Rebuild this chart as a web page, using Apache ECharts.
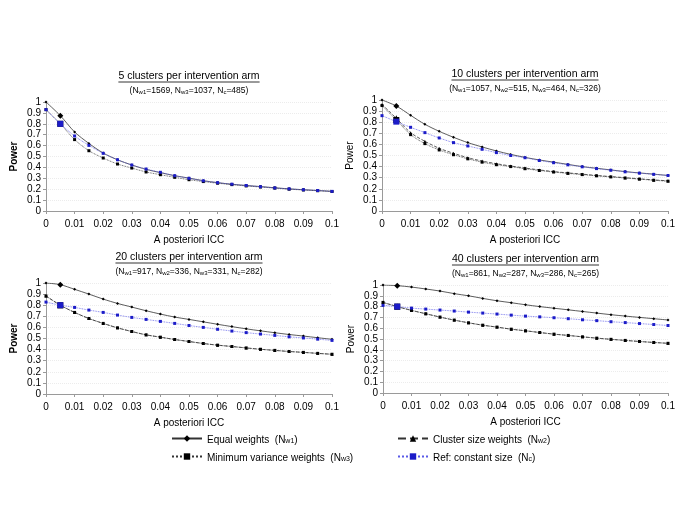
<!DOCTYPE html>
<html>
<head>
<meta charset="utf-8">
<script src="https://cdn.jsdelivr.net/npm/echarts@6/dist/echarts.min.js"></script>
<style>
  html, body { margin: 0; padding: 0; background: #fff; }
  #chart { width: 685px; height: 512px; }
</style>
</head>
<body>
<div id="chart"></div>
<script>
// x categories (ICC), labels shown every other one
var xCats = ['0','0.005','0.01','0.015','0.02','0.025','0.03','0.035','0.04','0.045','0.05',
             '0.055','0.06','0.065','0.07','0.075','0.08','0.085','0.09','0.095','0.1'];
var yTicks = [0, 0.1, 0.2, 0.3, 0.4, 0.5, 0.6, 0.7, 0.8, 0.9, 1];

// panel 1: 5 clusters
var p1_w1 = [1.0,0.875,0.725,0.62,0.532,0.47,0.422,0.382,0.352,0.324,0.302,0.278,0.26,0.245,0.234,0.224,0.213,0.203,0.195,0.188,0.18];
var p1_w3 = [0.93,0.80,0.655,0.553,0.486,0.431,0.394,0.358,0.333,0.309,0.287,0.27,0.255,0.242,0.23,0.22,0.21,0.2,0.193,0.186,0.179];
var p1_nc = [0.93,0.80,0.688,0.602,0.529,0.47,0.422,0.385,0.355,0.324,0.30,0.277,0.26,0.246,0.234,0.223,0.212,0.203,0.195,0.188,0.18];

// panel 2: 10 clusters
var p2_w1 = [1.0,0.946,0.862,0.781,0.718,0.664,0.616,0.577,0.541,0.51,0.483,0.46,0.44,0.42,0.40,0.385,0.37,0.355,0.343,0.332,0.32];
var p2_w2 = [0.96,0.835,0.706,0.628,0.565,0.52,0.48,0.45,0.426,0.405,0.387,0.37,0.355,0.343,0.332,0.32,0.31,0.30,0.29,0.28,0.272];
var p2_w3 = [0.95,0.82,0.688,0.607,0.55,0.507,0.47,0.44,0.417,0.40,0.381,0.365,0.351,0.339,0.328,0.317,0.307,0.297,0.287,0.277,0.268];
var p2_nc = [0.859,0.805,0.754,0.706,0.658,0.616,0.586,0.556,0.526,0.50,0.48,0.455,0.435,0.416,0.398,0.382,0.367,0.353,0.341,0.33,0.32];

// panel 3: 20 clusters
var p3_w1 = [1.0,0.985,0.943,0.90,0.855,0.816,0.783,0.75,0.72,0.693,0.672,0.65,0.628,0.607,0.587,0.569,0.552,0.536,0.522,0.507,0.493];
var p3_w2 = [0.883,0.80,0.735,0.68,0.636,0.596,0.563,0.533,0.512,0.491,0.473,0.455,0.44,0.428,0.415,0.403,0.393,0.383,0.375,0.366,0.358];
var p3_w3 = [0.883,0.80,0.735,0.68,0.636,0.596,0.563,0.533,0.512,0.491,0.473,0.455,0.44,0.428,0.415,0.403,0.393,0.383,0.375,0.366,0.358];
var p3_nc = [0.828,0.80,0.78,0.756,0.735,0.711,0.69,0.672,0.654,0.636,0.617,0.60,0.583,0.567,0.553,0.54,0.528,0.515,0.505,0.494,0.483];

// panel 4: 40 clusters
var p4_w1 = [1.0,0.994,0.981,0.963,0.944,0.92,0.90,0.876,0.854,0.836,0.817,0.80,0.785,0.77,0.755,0.74,0.725,0.712,0.70,0.688,0.676];
var p4_w2 = [0.839,0.80,0.765,0.734,0.703,0.675,0.65,0.628,0.61,0.591,0.576,0.56,0.545,0.533,0.52,0.508,0.497,0.487,0.477,0.468,0.46];
var p4_w3 = [0.839,0.80,0.765,0.734,0.703,0.675,0.65,0.628,0.61,0.591,0.576,0.56,0.545,0.533,0.52,0.508,0.497,0.487,0.477,0.468,0.46];
var p4_nc = [0.811,0.80,0.786,0.777,0.768,0.759,0.749,0.74,0.731,0.721,0.712,0.705,0.697,0.688,0.678,0.67,0.66,0.652,0.643,0.634,0.625];

var FONT = '"Liberation Sans", Arial, sans-serif';

var names = {
    w1: 'Equal weights',
    w2: 'Cluster size weights',
    w3: 'Minimum variance weights',
    nc: 'Ref: constant size'
};
var subs = { w1: 'w1', w2: 'w2', w3: 'w3', nc: 'c' };

var styles = {
    w1: { color: '#000', type: 'solid', symbol: 'diamond' },
    w2: { color: '#000', type: 'dashed', symbol: 'triangle' },
    w3: { color: '#000', type: 'dotted', symbol: 'rect' },
    nc: { color: '#1c1cc8', type: 'dotted', symbol: 'rect' }
};

var panels = [
    { title: '5 clusters per intervention arm',
      sub: [['w1','1569'],['w3','1037'],['c','485']],
      grid: { left: 46, top: 102, width: 286, height: 109 }, boldY: true,
      series: { w1: p1_w1, w3: p1_w3, nc: p1_nc } },
    { title: '10 clusters per intervention arm',
      sub: [['w1','1057'],['w2','515'],['w3','464'],['c','326']],
      grid: { left: 382, top: 100, width: 286, height: 111 }, boldY: false,
      series: { w1: p2_w1, w2: p2_w2, w3: p2_w3, nc: p2_nc } },
    { title: '20 clusters per intervention arm',
      sub: [['w1','917'],['w2','336'],['w3','331'],['c','282']],
      grid: { left: 46, top: 283, width: 286, height: 111 }, boldY: true,
      series: { w1: p3_w1, w2: p3_w2, w3: p3_w3, nc: p3_nc } },
    { title: '40 clusters per intervention arm',
      sub: [['w1','861'],['w2','287'],['w3','286'],['c','265']],
      grid: { left: 383, top: 285, width: 285, height: 108 }, boldY: false,
      series: { w1: p4_w1, w2: p4_w2, w3: p4_w3, nc: p4_nc } }
];

var measure = document.createElement('canvas').getContext('2d');
measure.font = '10.5px "Liberation Sans"';

var grids = [], xAxes = [], yAxes = [], series = [], titles = [], graphics = [];

panels.forEach(function (p, i) {
    var cx = p.grid.left + p.grid.width / 2;
    var titleTop = p.grid.top - 31;
    grids.push(p.grid);

    titles.push({
        text: p.title,
        left: cx, top: titleTop, textAlign: 'center', padding: 0,
        textStyle: { fontFamily: FONT, fontSize: 10.5, fontWeight: 'normal', color: '#000' }
    });
    var tw = measure.measureText(p.title).width;
    graphics.push({
        type: 'line',
        shape: { x1: cx - tw / 2, y1: titleTop + 11, x2: cx + tw / 2, y2: titleTop + 11 },
        style: { stroke: '#000', lineWidth: 0.8 }
    });

    var parts = p.sub.map(function (s) {
        return '{n|N}{s|' + s[0] + '}{n|=' + s[1] + '}';
    });
    titles.push({
        text: '{n|(}' + parts.join('{n|, }') + '{n|)}',
        left: cx, top: titleTop + 13, textAlign: 'center', padding: 0,
        textStyle: {
            fontWeight: 'normal',
            rich: {
                n: { fontFamily: FONT, fontSize: 8.5, fontWeight: 'normal', color: '#000', lineHeight: 11, verticalAlign: 'bottom' },
                s: { fontFamily: FONT, fontSize: 6, fontWeight: 'normal', color: '#000', lineHeight: 9, verticalAlign: 'bottom' }
            }
        }
    });

    xAxes.push({
        gridIndex: i, type: 'category', data: xCats, boundaryGap: false,
        name: 'A posteriori ICC', nameLocation: 'middle', nameGap: 24,
        nameTextStyle: { fontFamily: FONT, fontSize: 10, color: '#000' },
        axisLine: { lineStyle: { color: '#9a9a9a', width: 1 } },
        axisTick: { interval: 1, length: 3, lineStyle: { color: '#9a9a9a' } },
        axisLabel: { interval: 1, fontFamily: FONT, fontSize: 10, color: '#000', margin: 8 },
        splitLine: { show: false }
    });
    yAxes.push({
        gridIndex: i, type: 'value', min: 0, max: 1, interval: 0.1,
        name: 'Power', nameLocation: 'middle', nameGap: 27, nameRotate: 90,
        nameTextStyle: { fontFamily: FONT, fontSize: 10, color: '#000', fontWeight: p.boldY ? 'bold' : 'normal' },
        axisLine: { show: true, lineStyle: { color: '#9a9a9a', width: 1 } },
        axisTick: { show: true, length: 3, lineStyle: { color: '#9a9a9a' } },
        axisLabel: { fontFamily: FONT, fontSize: 10, color: '#000', margin: 5 },
        splitLine: { show: true, lineStyle: { color: '#ececec', type: 'dotted', width: 1 } }
    });

    ['w1', 'w2', 'w3', 'nc'].forEach(function (k) {
        if (!p.series[k]) return;
        var st = styles[k];
        series.push({
            name: names[k], type: 'line',
            xAxisIndex: i, yAxisIndex: i,
            data: p.series[k],
            symbol: st.symbol,
            symbolSize: function (v, prm) { return prm.dataIndex === 1 ? 6 : 3; },
            showAllSymbol: true,
            smooth: 0.3,
            itemStyle: { color: st.color },
            lineStyle: { color: k === 'nc' ? '#5a5ae8' : '#333', type: st.type, width: 0.8 },
            emphasis: { disabled: true },
            animation: false,
            z: k === 'nc' ? 3 : 2
        });
    });
});

function legendFmt(name) {
    var k = Object.keys(names).filter(function (x) { return names[x] === name; })[0];
    return '{t|' + name + '  (N}{s|' + subs[k] + '}{t|)}';
}
var legendText = {
    rich: {
        t: { fontFamily: FONT, fontSize: 10, color: '#000', lineHeight: 13, verticalAlign: 'bottom' },
        s: { fontFamily: FONT, fontSize: 7, color: '#000', lineHeight: 10, verticalAlign: 'bottom' }
    }
};

var option = {
    backgroundColor: '#fff',
    animation: false,
    title: titles,
    grid: grids,
    xAxis: xAxes,
    yAxis: yAxes,
    series: series,
    graphic: graphics,
    legend: [
        { data: [names.w1, names.w3], orient: 'vertical', left: 166, top: 430,
          itemWidth: 30, itemHeight: 8, itemGap: 8, formatter: legendFmt, textStyle: legendText },
        { data: [names.w2, names.nc], orient: 'vertical', left: 392, top: 430,
          itemWidth: 30, itemHeight: 8, itemGap: 8, formatter: legendFmt, textStyle: legendText }
    ]
};

var chart = echarts.init(document.getElementById('chart'), null, { renderer: 'canvas' });
chart.setOption(option);
</script>
</body>
</html>
